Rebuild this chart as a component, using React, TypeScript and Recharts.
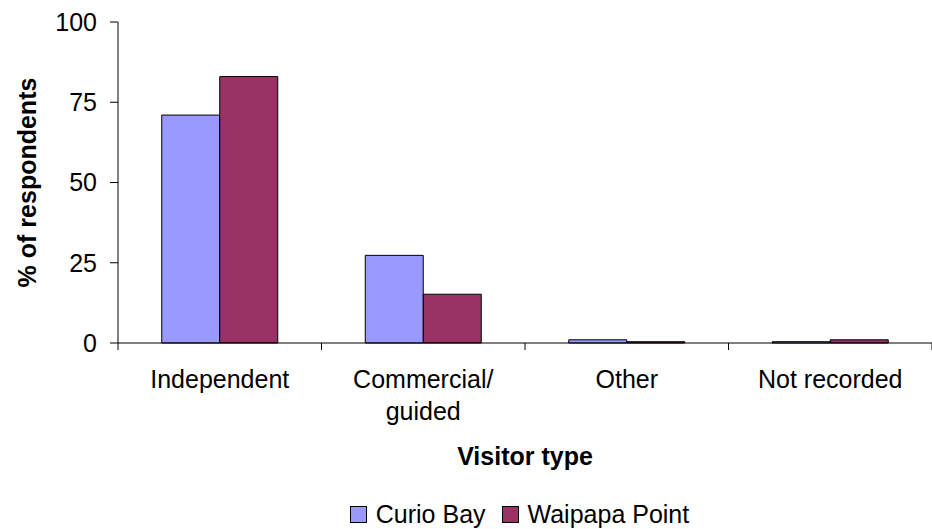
import React from "react";
import { BarChart, Bar, XAxis, YAxis, Legend } from "recharts";

const categories = ["Independent", "Commercial/\nguided", "Other", "Not recorded"];
const curioBay = [71, 27.3, 1, 0.4];
const waipapaPoint = [83, 15.2, 0.4, 1];
const yTicks = [0, 25, 50, 75, 100];

const seriesInfo = [
  { key: "curio", name: "Curio Bay", color: "#9999FF" },
  { key: "waipapa", name: "Waipapa Point", color: "#993366" },
];

const data = categories.map((c, i) => ({
  cat: c,
  curio: curioBay[i],
  waipapa: waipapaPoint[i],
}));

const FONT = "'Liberation Sans', Arial, sans-serif";
const W = 932;
const H = 529;
const LEFT = 118;

const CategoryTick = (props: any) => {
  const { x, y, payload, index } = props;
  const half = payload?.offset ?? (W - LEFT) / categories.length / 2;
  const lines = String(payload.value).split("\n");
  return (
    <g>
      <line x1={x - half} x2={x - half} y1={y - 8} y2={y - 1} stroke="#000" />
      {index === categories.length - 1 && (
        <line x1={x + half} x2={x + half} y1={y - 8} y2={y - 1} stroke="#000" />
      )}
      <text
        x={x}
        y={y}
        textAnchor="middle"
        fontFamily={FONT}
        fontSize={25}
        fill="#000"
      >
        {lines.map((l, i) => (
          <tspan key={i} x={x} dy={i === 0 ? 37 : 32}>
            {l}
          </tspan>
        ))}
      </text>
    </g>
  );
};

// legend sits centred under the plot area, not the whole chart
const LegendBox = () => (
  <div
    style={{
      display: "flex",
      justifyContent: "center",
      alignItems: "center",
      height: 24,
      fontFamily: FONT,
      fontSize: 25,
      color: "#000",
      paddingLeft: 107,
      boxSizing: "border-box",
      width: W,
      transform: "translateY(-3px)",
    }}
  >
    {seriesInfo.map((s, i) => (
      <div
        key={s.key}
        style={{ display: "flex", alignItems: "center", marginLeft: i ? 16 : 0 }}
      >
        <span
          style={{
            display: "inline-block",
            width: 15,
            height: 15,
            background: s.color,
            border: "1px solid #000",
            marginRight: 9,
          }}
        />
        <span style={{ lineHeight: "24px" }}>{s.name}</span>
      </div>
    ))}
  </div>
);

export default function App() {
  return (
    <div style={{ position: "absolute", left: 0, top: 0, width: W, height: H, background: "#fff" }}>
      <BarChart
        width={W}
        height={H}
        data={data}
        margin={{ top: 22, right: 0, bottom: 0, left: 0 }}
        barCategoryGap="21.5%"
        barGap={0}
      >
        <XAxis
          dataKey="cat"
          stroke="#000"
          tickLine={false}
          tick={<CategoryTick />}
          interval={0}
          height={162}
          label={{
            value: "Visitor type",
            position: "insideTop",
            offset: 104,
            style: { fontFamily: FONT, fontSize: 25, fontWeight: "bold", fill: "#000" },
          }}
        />
        <YAxis
          domain={[0, 100]}
          ticks={yTicks}
          width={LEFT}
          stroke="#000"
          tickSize={8}
          tickMargin={13}
          tick={{ fontFamily: FONT, fontSize: 25, fill: "#000" }}
          label={{
            content: (p: any) => {
              const vb = p.viewBox || { x: 0, y: 22, width: LEFT, height: 321 };
              const cx = 36;
              const cy = vb.y + vb.height / 2;
              return (
                <text
                  x={cx}
                  y={cy}
                  transform={`rotate(-90 ${cx} ${cy})`}
                  textAnchor="middle"
                  fontFamily={FONT}
                  fontSize={25}
                  fontWeight="bold"
                  fill="#000"
                >
                  % of respondents
                </text>
              );
            },
          }}
        />
        <Legend verticalAlign="bottom" content={<LegendBox />} />
        {seriesInfo.map((s) => (
          <Bar
            key={s.key}
            dataKey={s.key}
            name={s.name}
            fill={s.color}
            stroke="#000"
            strokeWidth={1}
            isAnimationActive={false}
          />
        ))}
      </BarChart>
    </div>
  );
}
